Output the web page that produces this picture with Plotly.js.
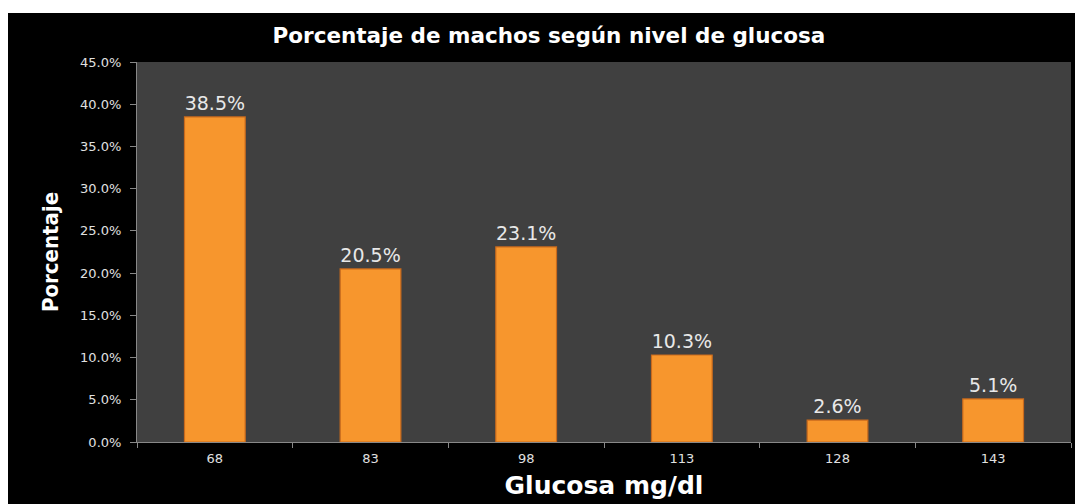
<!DOCTYPE html>
<html>
<head>
<meta charset="utf-8">
<script src="https://cdn.plot.ly/plotly-3.0.1.min.js"></script>
<style>
    html, body { margin: 0; padding: 0; background: #ffffff; }
    #chart { position: absolute; left: 8px; top: 13px; width: 1067px; height: 491px; }
</style>
</head>
<body>
<div id="chart"></div>
<script>
    var glucosa = ['68', '83', '98', '113', '128', '143'];
    var porcentaje = [0.385, 0.205, 0.231, 0.103, 0.026, 0.051];
    var etiquetas = ['38.5%', '20.5%', '23.1%', '10.3%', '2.6%', '5.1%'];

    var trace = {
        x: glucosa,
        y: porcentaje,
        type: 'bar',
        text: etiquetas,
        textposition: 'outside',
        cliponaxis: false,
        textfont: { family: 'DejaVu Sans', size: 19, color: '#e8e8e8' },
        marker: {
            color: '#f7962d',
            line: { color: '#c96a1c', width: 1.2 }
        },
        hoverinfo: 'none'
    };

    var layout = {
        width: 1067,
        height: 491,
        margin: { l: 129, r: 4, t: 49, b: 62 },
        paper_bgcolor: '#000000',
        plot_bgcolor: '#404040',
        bargap: 0.61,
        showlegend: false,
        title: {
            text: '<b>Porcentaje de machos según nivel de glucosa</b>',
            font: { family: 'DejaVu Sans', size: 21.5, color: '#ffffff' },
            x: 0.507,
            xanchor: 'center',
            y: 0.955,
            yanchor: 'middle'
        },
        xaxis: {
            type: 'category',
            tickson: 'boundaries',
            ticks: 'outside',
            ticklen: 5,
            tickcolor: '#888888',
            showline: true,
            linecolor: '#888888',
            linewidth: 1,
            showgrid: false,
            ticklabelstandoff: 4,
            tickfont: { family: 'DejaVu Sans', size: 13, color: '#e0e0e0' },
            title: {
                text: '<b>Glucosa mg/dl</b>',
                font: { family: 'DejaVu Sans', size: 25, color: '#ffffff' },
                standoff: 11
            }
        },
        yaxis: {
            range: [0, 0.45],
            dtick: 0.05,
            tickformat: '.1%',
            ticks: 'outside',
            ticklen: 6,
            tickcolor: '#888888',
            showline: true,
            linecolor: '#888888',
            linewidth: 1,
            showgrid: false,
            zeroline: false,
            ticklabelstandoff: 6,
            tickfont: { family: 'DejaVu Sans', size: 13, color: '#e0e0e0' },
            title: {
                text: '<b>Porcentaje</b>',
                font: { family: 'DejaVu Sans Condensed', size: 22, color: '#ffffff' },
                standoff: 15
            }
        }
    };

    Plotly.newPlot('chart', [trace], layout, { displayModeBar: false, staticPlot: true });
</script>
</body>
</html>
